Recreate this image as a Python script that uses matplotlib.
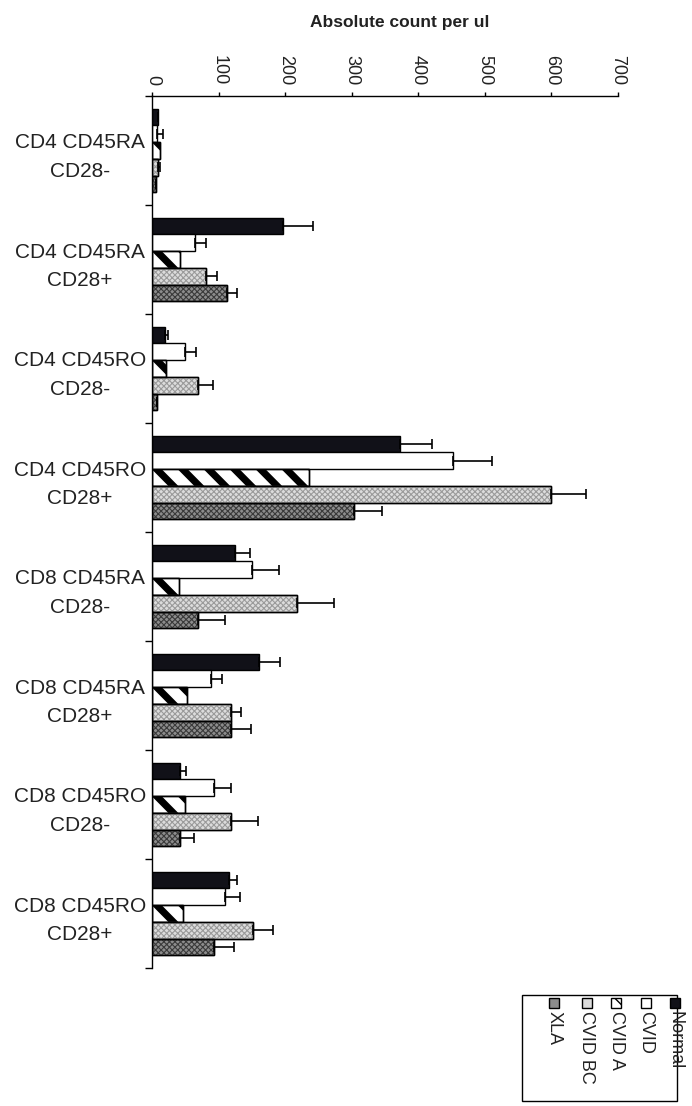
import matplotlib
matplotlib.use("Agg")
import matplotlib.pyplot as plt
from matplotlib.patches import Rectangle
from matplotlib.collections import PolyCollection
import numpy as np

plt.rcParams['font.family'] = ['Liberation Sans', 'DejaVu Sans']

categories = ["CD4 CD45RA\nCD28-", "CD4 CD45RA\nCD28+", "CD4 CD45RO\nCD28-", "CD4 CD45RO\nCD28+",
              "CD8 CD45RA\nCD28-", "CD8 CD45RA\nCD28+", "CD8 CD45RO\nCD28-", "CD8 CD45RO\nCD28+"]
series_names = ["Normal", "CVID", "CVID A", "CVID BC", "XLA"]

normal = [8, 197, 19, 373, 124, 161, 42, 115]
normal_err = [0, 44, 5, 48, 23, 31, 9, 13]
cvid = [7, 64, 49, 452, 150, 88, 92, 109]
cvid_err = [9, 17, 16, 59, 41, 17, 26, 23]
cvid_a = [12, 42, 21, 235, 40, 52, 49, 46]
cvid_bc = [9, 80, 69, 599, 217, 119, 118, 152]
cvid_bc_err = [2, 18, 22, 53, 56, 15, 41, 30]
xla = [5, 113, 7, 303, 69, 118, 41, 93]
xla_err = [0, 14, 0, 42, 40, 30, 22, 30]

x_ticks = [0, 100, 200, 300, 400, 500, 600, 700]

W, H = 692, 1106
fig = plt.figure(figsize=(W / 100, H / 100), dpi=100)
ax = fig.add_axes([152.3 / W, 1 - 968 / H, 465.7 / W, 872 / H])

n_cat = len(categories)
pos = np.arange(n_cat)
bar_h = 0.154
offsets = (np.arange(5) - 2) * bar_h

styles = [
    dict(facecolor="#111118", edgecolor="black"),
    dict(facecolor="white", edgecolor="black"),
    dict(facecolor="white", edgecolor="black"),
    dict(facecolor="#dcdcdc", edgecolor="black"),
    dict(facecolor="#8c8c8c", edgecolor="black"),
]
values = [normal, cvid, cvid_a, cvid_bc, xla]
errors = [normal_err, cvid_err, None, cvid_bc_err, xla_err]
dot_colors = [None, None, None, "#9a9a9a", "#3a3a3a"]

ax.set_xlim(0, 700)
ax.set_ylim(n_cat - 0.5, -0.5)

# wide diagonal stripes (in data units of the x axis)
stripe_gap, stripe_w, stripe_slant = 39.0, 15.0, 25.0


def add_stripes(bar):
    x0, y0 = bar.get_x(), bar.get_y()
    w, h = bar.get_width(), bar.get_height()
    polys = []
    start = x0 - stripe_slant - stripe_w
    for xs in np.arange(start, x0 + w + stripe_gap, stripe_gap):
        polys.append([(xs, y0), (xs + stripe_w, y0),
                      (xs + stripe_w + stripe_slant, y0 + h), (xs + stripe_slant, y0 + h)])
    pc = PolyCollection(polys, facecolor='black', edgecolor='none', zorder=2.2)
    ax.add_collection(pc)
    pc.set_clip_path(bar)


for i, (vals, errs, st) in enumerate(zip(values, errors, styles)):
    y = pos + offsets[i]
    bars = ax.barh(y, vals, height=bar_h, linewidth=1.0, **st, zorder=2)
    if i == 2:
        for b in bars:
            add_stripes(b)
        ax.barh(y, vals, height=bar_h, facecolor="none", edgecolor="black",
                linewidth=1.0, zorder=2.6)
    if dot_colors[i] is not None:
        with plt.rc_context({'hatch.linewidth': 0.8}):
            ax.barh(y, vals, height=bar_h, facecolor="none", edgecolor=dot_colors[i],
                    hatch='xxxxxx', linewidth=0, zorder=2.5)
        ax.barh(y, vals, height=bar_h, facecolor="none", edgecolor="black",
                linewidth=1.0, zorder=2.6)
    if errs is not None:
        ax.errorbar(vals, y, xerr=[np.zeros(n_cat), errs], fmt='none',
                    ecolor='black', elinewidth=1.2, capsize=3.3, capthick=1.2, zorder=3)

ax.xaxis.set_ticks_position('top')
ax.set_xticks(x_ticks)
ax.set_xticklabels([str(t) for t in x_ticks], rotation=-90, fontsize=13,
                   va='bottom', ha='center', color='#222222')
ax.tick_params(axis='x', direction='out', length=3, width=1, pad=5)

ax.set_yticks(pos)
ax.set_yticklabels(categories, fontsize=15, ha='center', multialignment='center',
                   linespacing=1.65, color='#222222')
ax.tick_params(axis='y', which='major', length=0, pad=52)
ax.set_yticks(np.arange(n_cat + 1) - 0.5, minor=True)
ax.tick_params(axis='y', which='minor', direction='out', length=5, width=1)

for s in ['right', 'bottom']:
    ax.spines[s].set_visible(False)
ax.spines['left'].set_linewidth(1.0)
ax.spines['top'].set_linewidth(1.0)

fig.text(400 / W, 1 - 22 / H, "Absolute count per ul", fontsize=12.5,
         fontweight='bold', ha='center', va='center', color='#222222')

# rotated legend box
fig.patches.append(Rectangle((522 / W, 1 - 1101 / H), 155 / W, 106 / H,
                             transform=fig.transFigure, facecolor='white',
                             edgecolor='black', linewidth=1.0))
leg_x = [675, 646, 616, 587, 554]
for i, name in enumerate(series_names):
    fig.text(leg_x[i] / W, 1 - 1011 / H, name, rotation=-90, fontsize=13,
             ha='center', va='top', color='#222222')
    st = styles[i]
    r = Rectangle(((leg_x[i] - 5) / W, 1 - 1008 / H), 10 / W, 10 / H,
                  transform=fig.transFigure, facecolor=st['facecolor'],
                  edgecolor='black', linewidth=1.0,
                  hatch='\\\\' if i == 2 else None)
    fig.patches.append(r)

fig.savefig("out.png", dpi=100)
